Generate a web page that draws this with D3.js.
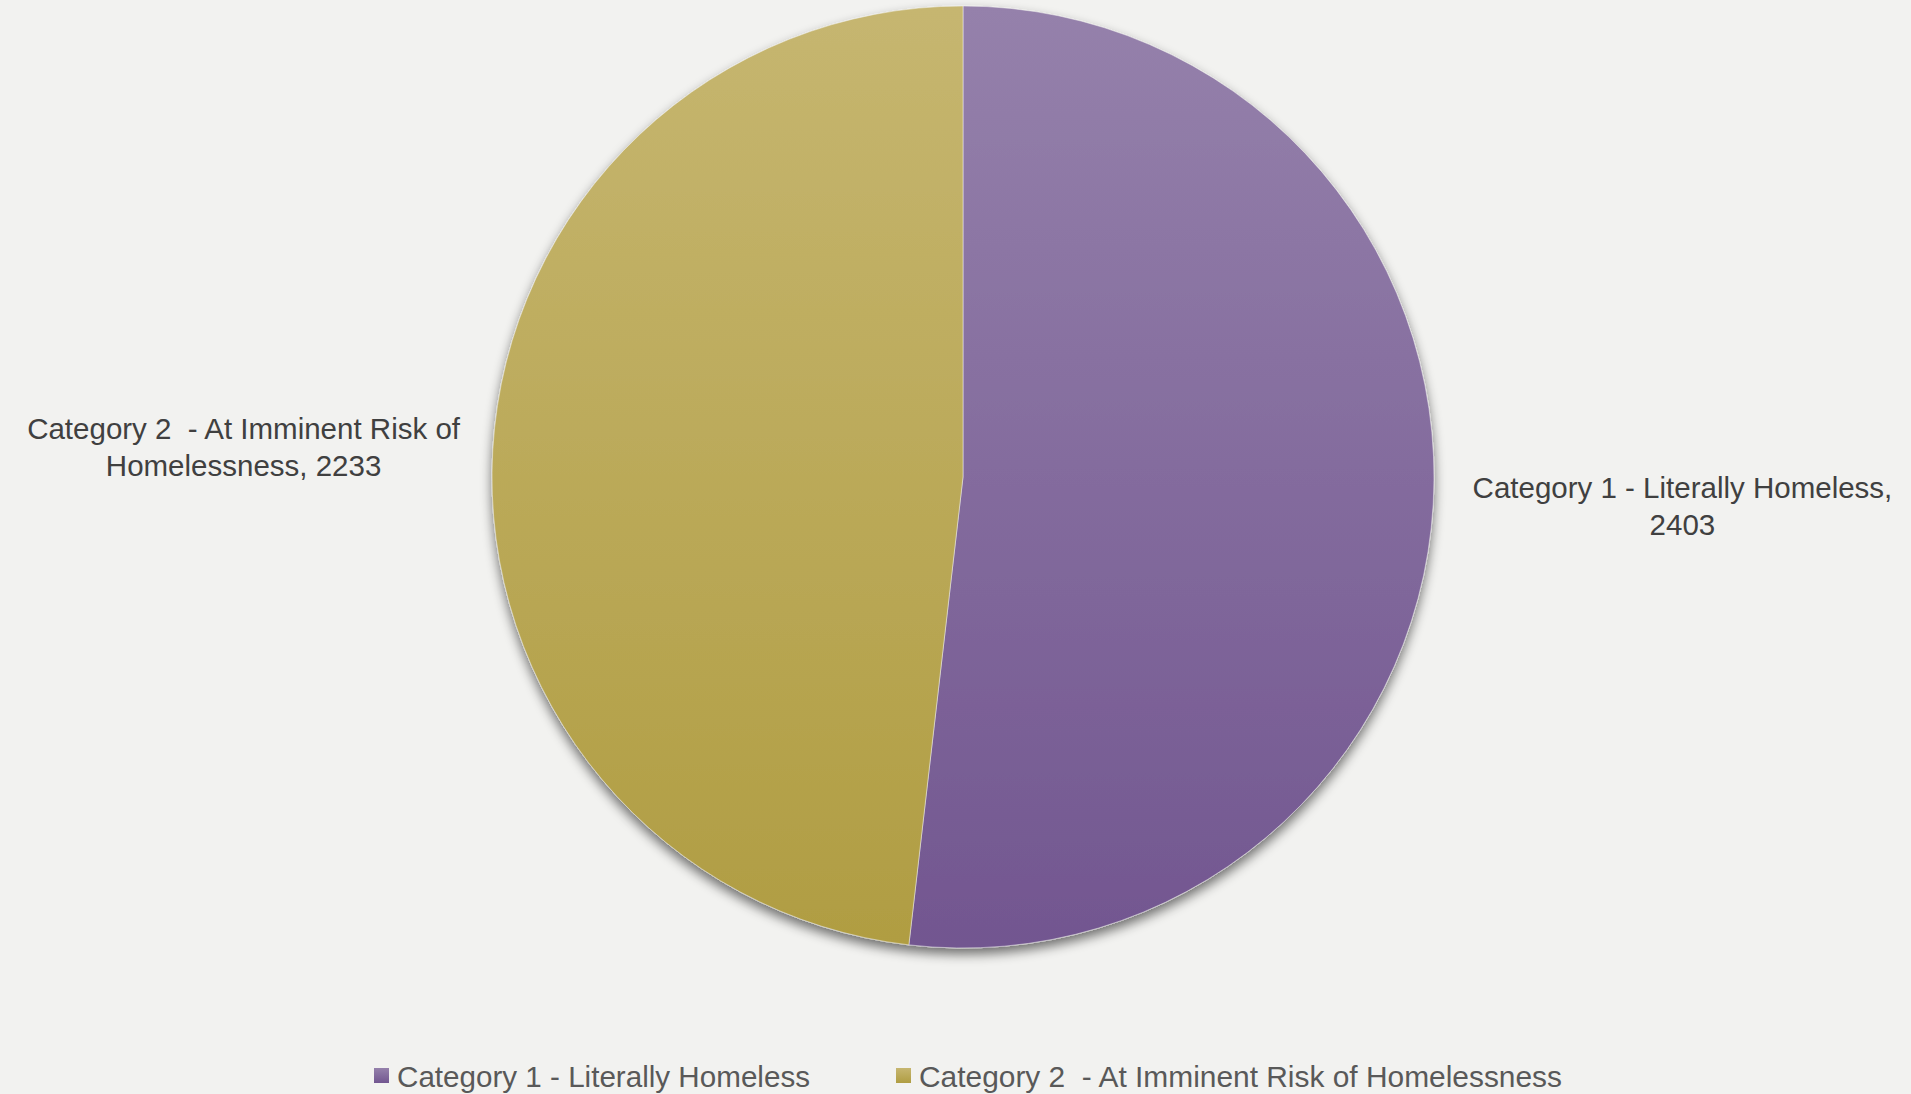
<!DOCTYPE html>
<html>
<head>
<meta charset="utf-8">
<script src="https://cdn.jsdelivr.net/npm/d3@7"></script>
<style>
  html, body { margin: 0; padding: 0; background: #f2f2f0; }
  svg { display: block; }
  text { white-space: pre; }
</style>
</head>
<body>
<div id="chart"></div>
<script>
var categories = ['Category 1 - Literally Homeless', 'Category 2  - At Imminent Risk of Homelessness'];
var values = [2403, 2233];
var labelLines = [
    ['Category 1 - Literally Homeless,', '2403'],
    ['Category 2  - At Imminent Risk of', 'Homelessness, 2233']
];
var colorsTop = ['#9581ab', '#c6b670'];
var colorsBottom = ['#725690', '#b09d42'];

var width = 1911, height = 1094;
var cx = 963, cy = 477, radius = 471;

var svg = d3.select('#chart').append('svg')
    .attr('width', width)
    .attr('height', height);

svg.append('rect')
    .attr('width', width)
    .attr('height', height)
    .attr('fill', '#f2f2f0');

var defs = svg.append('defs');

var shadow = defs.append('filter')
    .attr('id', 'shadow')
    .attr('x', '-10%').attr('y', '-10%')
    .attr('width', '120%').attr('height', '125%');
shadow.append('feGaussianBlur').attr('in', 'SourceAlpha').attr('stdDeviation', 6);
shadow.append('feOffset').attr('dx', 0).attr('dy', 6).attr('result', 'blur');
shadow.append('feComponentTransfer').append('feFuncA').attr('type', 'linear').attr('slope', 0.55);
var merge = shadow.append('feMerge');
merge.append('feMergeNode');
merge.append('feMergeNode').attr('in', 'SourceGraphic');

categories.forEach(function(c, i) {
    var g = defs.append('linearGradient')
        .attr('id', 'grad' + i)
        .attr('gradientUnits', 'userSpaceOnUse')
        .attr('x1', 0).attr('y1', -radius)
        .attr('x2', 0).attr('y2', radius);
    g.append('stop').attr('offset', '0%').attr('stop-color', colorsTop[i]);
    g.append('stop').attr('offset', '100%').attr('stop-color', colorsBottom[i]);

    var lg = defs.append('linearGradient')
        .attr('id', 'lgrad' + i)
        .attr('x1', 0).attr('y1', 0).attr('x2', 0).attr('y2', 1);
    lg.append('stop').attr('offset', '0%').attr('stop-color', colorsTop[i]);
    lg.append('stop').attr('offset', '100%').attr('stop-color', colorsBottom[i]);
});

var pie = d3.pie().sort(null).value(function(d) { return d; });
var arcs = pie(values);

var arc = d3.arc().innerRadius(0).outerRadius(radius);
var labelArc = d3.arc().innerRadius(radius * 1.53).outerRadius(radius * 1.53);

var pie_g = svg.append('g')
    .attr('transform', 'translate(' + cx + ',' + cy + ')');

pie_g.append('g')
    .attr('filter', 'url(#shadow)')
    .selectAll('path')
    .data(arcs)
    .enter().append('path')
    .attr('d', arc)
    .attr('fill', function(d, i) { return 'url(#grad' + i + ')'; })
    .attr('stroke', '#f2f2f0')
    .attr('stroke-width', 0.5);

var labels = pie_g.selectAll('.label')
    .data(arcs)
    .enter().append('text')
    .attr('class', 'label')
    .attr('text-anchor', 'middle')
    .attr('font-family', '"Liberation Sans", Arial, sans-serif')
    .attr('font-size', 29.5)
    .attr('fill', '#404040')
    .attr('transform', function(d) {
        var p = labelArc.centroid(d);
        return 'translate(' + p[0] + ',' + (p[1] * 0.7) + ')';
    });

labels.each(function(d, i) {
    var t = d3.select(this);
    labelLines[i].forEach(function(line, j) {
        t.append('tspan')
            .attr('x', 0)
            .attr('y', (j - 0.5) * 37 + 10)
            .text(line);
    });
});

// legend
var legendX = [374, 896];
var legendW = [413, 643];
var legend = svg.append('g').attr('class', 'legend');
var items = legend.selectAll('g')
    .data(categories)
    .enter().append('g')
    .attr('transform', function(d, i) { return 'translate(' + legendX[i] + ',' + 1076 + ')'; });

items.append('rect')
    .attr('x', 0).attr('y', -8)
    .attr('width', 15).attr('height', 15)
    .attr('fill', function(d, i) { return 'url(#lgrad' + i + ')'; });

items.append('text')
    .attr('x', 23)
    .attr('y', 11)
    .attr('font-family', '"Liberation Sans Narrow", "Liberation Sans", Arial, sans-serif')
    .attr('font-size', 29)
    .attr('fill', '#595959')
    .attr('textLength', function(d, i) { return legendW[i]; })
    .attr('lengthAdjust', 'spacingAndGlyphs')
    .text(function(d) { return d; });
</script>
</body>
</html>
